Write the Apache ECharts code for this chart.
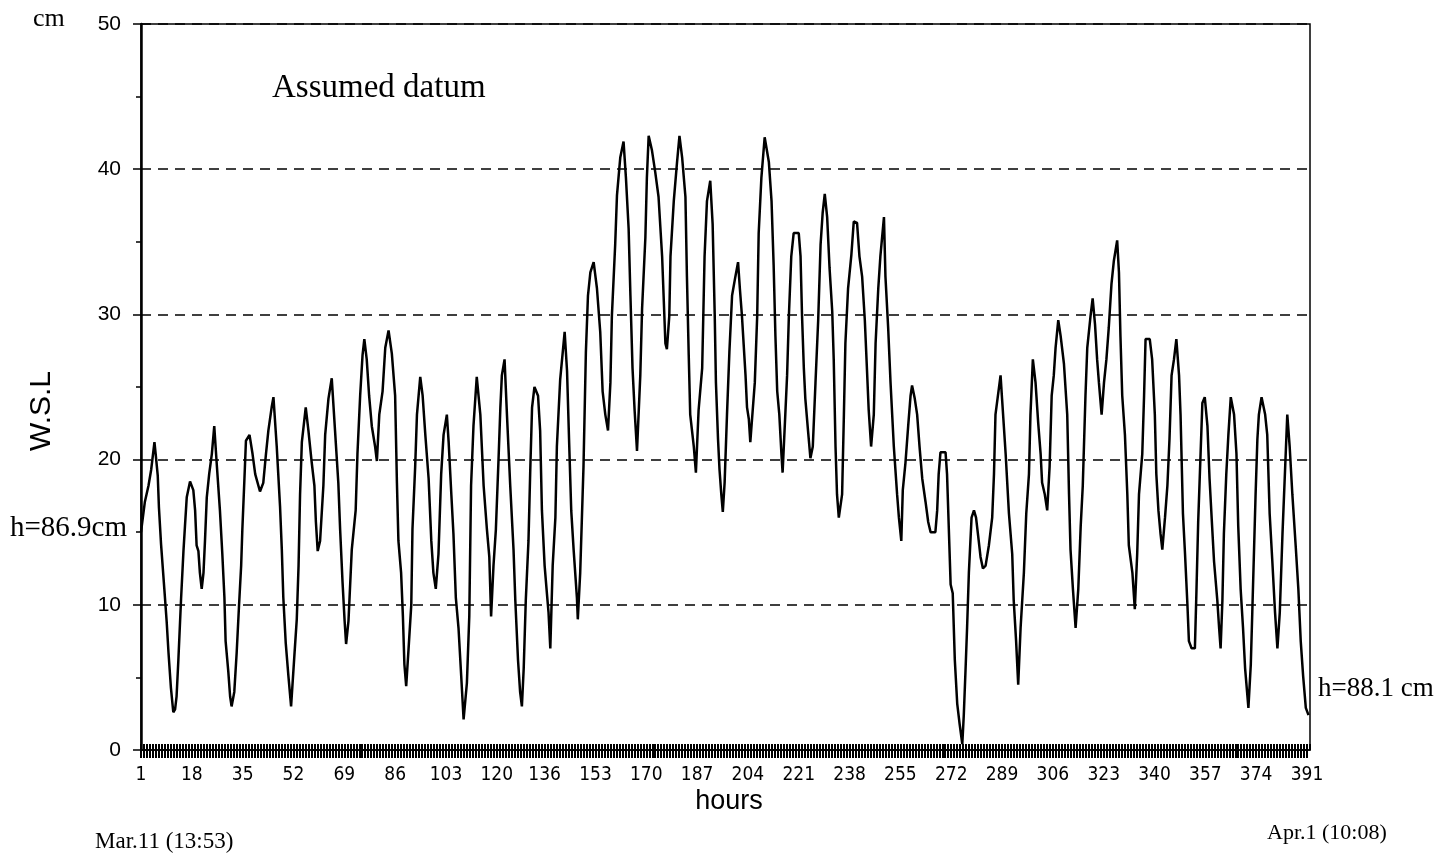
<!DOCTYPE html>
<html>
<head>
<meta charset="utf-8">
<script src="https://cdn.jsdelivr.net/npm/echarts@6/dist/echarts.min.js"></script>
<style>
  html, body { margin: 0; padding: 0; background: #fff; }
  #main { width: 1450px; height: 860px; }
</style>
</head>
<body>
<div id="main"></div>
<script>
// tick labels shown on the hours axis
var xLabels = [1, 18, 35, 52, 69, 86, 103, 120, 136, 153, 170, 187, 204, 221, 238, 255, 272, 289, 306, 323, 340, 357, 374, 391];
var yTicks = [0, 10, 20, 30, 40, 50];

// readings taken off the trace: hour and water surface level (cm)
var hours = [
  1.0, 2.3, 3.5, 4.4, 5.5, 5.9, 6.6, 7.0, 7.7, 8.8, 9.6, 10.2, 11.0, 11.8, 12.4, 12.9, 13.5, 14.4, 15.2, 15.7,
  16.3, 17.4, 18.5, 19.1, 19.6, 20.2, 20.7, 21.3, 21.9, 22.4, 23.0, 23.8, 24.7, 25.5, 26.3, 27.4, 28.2, 28.9, 29.3, 30.2,
  30.8, 31.3, 32.2, 33.0, 33.8, 34.5, 34.9, 35.6, 36.1, 37.3, 38.3, 39.2, 40.8, 41.9, 42.8, 43.6, 44.7, 45.3, 46.4, 47.5,
  48.1, 48.6, 49.4, 50.3, 51.2, 52.3, 53.1, 53.7, 54.2, 54.8, 56.1, 57.0, 58.1, 59.0, 59.5, 60.1, 60.9, 62.0, 62.6, 63.7,
  64.8, 65.9, 67.0, 67.6, 68.4, 69.1, 69.6, 70.4, 71.5, 72.8, 73.4, 74.3, 75.1, 75.7, 76.5, 77.3, 78.2, 79.3, 79.9, 80.7,
  81.8, 82.7, 83.8, 84.9, 86.0, 86.6, 87.1, 88.0, 88.6, 89.1, 89.7, 90.5, 91.4, 91.8, 92.7, 93.3, 94.4, 95.2, 96.1, 97.2,
  98.1, 98.8, 99.6, 100.5, 101.4, 102.2, 103.3, 103.9, 104.8, 105.5, 106.3, 107.2, 108.1, 108.9, 110.0, 110.8, 111.4, 112.2, 113.3, 114.5,
  115.6, 116.7, 117.5, 118.1, 118.9, 119.7, 120.6, 121.2, 121.7, 122.6, 123.4, 124.5, 125.6, 126.2, 127.1, 127.8, 128.4, 129.0, 129.7, 130.6,
  131.2, 131.8, 132.6, 133.8, 134.5, 135.1, 136.0, 136.8, 137.3, 137.9, 138.7, 139.6, 140.1, 141.2, 142.7, 143.5, 144.2, 144.9, 145.7, 146.8,
  147.1, 147.9, 149.0, 149.8, 150.5, 151.3, 152.4, 153.5, 154.6, 155.4, 156.3, 157.2, 158.0, 158.5, 159.6, 160.2, 161.3, 162.4, 163.2, 164.1,
  164.7, 165.4, 166.1, 166.9, 168.0, 168.6, 169.7, 170.2, 170.8, 171.9, 173.0, 174.1, 175.3, 176.4, 176.9, 177.7, 178.1, 179.2, 180.3, 181.1,
  182.0, 183.1, 183.6, 184.2, 184.7, 185.9, 186.6, 187.5, 188.7, 189.5, 190.3, 191.4, 192.2, 192.9, 193.3, 194.0, 194.5, 195.1, 195.6, 196.2,
  197.0, 197.8, 198.7, 199.8, 200.7, 201.3, 202.0, 203.2, 203.7, 204.3, 204.8, 205.6, 206.3, 207.1, 207.6, 208.5, 209.6, 211.0, 211.9, 212.6,
  213.2, 213.8, 214.5, 215.2, 215.6, 216.5, 217.1, 217.7, 218.5, 219.3, 221.0, 221.6, 222.1, 222.7, 223.2, 224.1, 224.9, 225.7, 226.6, 227.5,
  228.3, 229.0, 229.7, 230.5, 231.3, 232.2, 232.7, 233.3, 233.8, 234.4, 235.5, 236.1, 236.6, 237.5, 238.6, 239.4, 240.5, 241.3, 242.2, 243.1,
  243.9, 244.4, 245.2, 246.1, 246.7, 247.6, 248.3, 249.5, 250.0, 250.9, 251.7, 252.8, 253.9, 254.5, 255.3, 255.8, 256.7, 257.6, 258.4, 258.9,
  259.8, 260.6, 261.4, 262.3, 263.4, 264.3, 265.1, 266.7, 267.3, 267.8, 268.4, 270.1, 270.6, 271.2, 271.8, 272.5, 273.2, 274.0, 274.8, 275.7,
  276.2, 276.8, 277.3, 277.9, 278.8, 279.6, 280.3, 281.2, 281.8, 282.6, 283.5, 284.6, 285.7, 286.3, 286.8, 288.5, 289.0, 290.2, 291.3, 292.4,
  292.9, 293.7, 294.4, 295.2, 296.3, 297.1, 298.0, 298.5, 299.3, 300.2, 301.1, 301.9, 302.4, 303.3, 304.1, 304.9, 305.6, 306.3, 306.9, 307.8,
  308.6, 309.7, 310.8, 311.4, 311.9, 312.7, 313.6, 314.5, 315.3, 316.0, 316.9, 317.5, 318.6, 319.3, 320.1, 320.8, 321.4, 322.3, 323.1, 323.9,
  324.7, 325.6, 326.4, 327.5, 328.1, 328.6, 329.2, 330.1, 330.9, 331.4, 332.6, 333.4, 334.2, 334.8, 335.9, 336.5, 337.0, 338.4, 339.2, 340.1,
  340.6, 341.3, 342.0, 342.6, 343.5, 344.3, 345.0, 345.7, 346.5, 347.3, 348.2, 348.7, 349.5, 350.2, 351.0, 351.5, 352.4, 353.5, 354.0, 354.6,
  355.4, 356.0, 356.8, 357.7, 358.4, 359.1, 359.9, 361.0, 361.6, 362.1, 362.7, 363.2, 364.0, 364.7, 365.5, 366.6, 367.4, 368.0, 368.8, 369.6,
  370.3, 371.4, 372.2, 372.7, 373.8, 374.4, 374.9, 375.8, 377.0, 377.7, 378.5, 379.4, 380.3, 381.1, 381.9, 382.8, 383.6, 384.4, 385.2, 386.1,
  387.2, 388.1, 388.9, 389.7, 390.6, 391.5
];
var levels = [
  15.0, 17.1, 18.2, 19.3, 21.2, 20.4, 18.9, 16.7, 14.2, 11.1, 8.8, 6.7, 4.3, 2.6, 2.8, 3.7, 6.2, 10.4, 13.7, 15.4,
  17.4, 18.5, 17.9, 16.5, 14.1, 13.7, 12.2, 11.1, 12.2, 14.4, 17.4, 19.0, 20.4, 22.3, 19.8, 16.5, 13.5, 10.5, 7.5, 5.4,
  3.7, 3.0, 4.0, 6.7, 10.0, 12.7, 15.2, 18.7, 21.3, 21.7, 20.4, 19.0, 17.8, 18.4, 20.4, 22.0, 23.6, 24.3, 20.9, 16.8,
  13.8, 10.5, 7.4, 5.1, 3.0, 6.5, 9.0, 12.7, 17.6, 21.2, 23.6, 22.0, 19.8, 18.2, 15.7, 13.7, 14.4, 18.2, 21.7, 24.2,
  25.6, 22.0, 18.4, 15.2, 11.6, 8.9, 7.3, 8.9, 13.8, 16.5, 20.4, 24.4, 27.2, 28.3, 26.9, 24.4, 22.3, 20.9, 19.9, 23.1,
  24.7, 27.7, 28.9, 27.3, 24.4, 18.4, 14.4, 12.2, 9.2, 5.9, 4.4, 7.0, 10.0, 15.2, 19.5, 23.1, 25.7, 24.4, 21.7, 18.7,
  14.4, 12.2, 11.1, 13.5, 19.0, 21.7, 23.1, 21.2, 17.6, 14.9, 10.5, 8.4, 5.1, 2.1, 4.6, 9.2, 18.2, 22.3, 25.7, 23.1,
  18.2, 15.2, 13.3, 9.2, 12.7, 15.2, 20.1, 23.6, 25.8, 26.9, 23.1, 18.2, 13.8, 10.3, 6.2, 4.0, 3.0, 5.6, 10.3, 14.4,
  19.3, 23.6, 25.0, 24.4, 22.0, 16.5, 12.7, 10.7, 9.5, 7.0, 12.7, 16.0, 20.9, 25.5, 28.8, 26.1, 21.2, 16.5, 13.8, 10.5,
  9.0, 12.2, 19.5, 27.4, 31.3, 32.9, 33.6, 31.8, 28.8, 24.7, 23.1, 22.0, 25.3, 29.9, 34.8, 38.2, 40.8, 41.9, 39.4, 35.9,
  31.3, 26.3, 23.4, 20.6, 25.8, 30.4, 35.3, 39.4, 42.3, 41.3, 39.8, 38.1, 34.0, 28.0, 27.6, 29.9, 34.0, 37.8, 40.5, 42.3,
  40.8, 38.1, 32.6, 27.2, 23.1, 20.9, 19.1, 23.4, 26.3, 34.0, 37.8, 39.2, 36.2, 29.9, 25.3, 21.4, 19.3, 17.6, 16.4, 18.4,
  23.1, 27.4, 31.3, 32.6, 33.6, 31.8, 29.9, 25.8, 23.6, 22.8, 21.2, 23.4, 25.3, 29.9, 35.6, 39.4, 42.2, 40.5, 37.8, 33.4,
  28.5, 24.7, 23.1, 20.4, 19.1, 23.1, 25.8, 29.9, 34.0, 35.6, 35.6, 34.0, 29.9, 26.3, 24.2, 22.0, 20.1, 20.9, 25.3, 29.6,
  34.8, 37.0, 38.3, 36.7, 33.2, 30.2, 26.9, 20.9, 17.6, 16.0, 17.6, 23.1, 28.0, 31.8, 34.1, 36.4, 36.3, 34.0, 32.6, 29.6,
  25.8, 23.4, 20.9, 23.1, 28.0, 31.8, 34.0, 36.7, 32.6, 29.1, 25.3, 20.9, 17.6, 16.0, 14.4, 17.9, 19.8, 22.3, 24.4, 25.1,
  24.2, 23.1, 20.9, 18.7, 17.1, 15.7, 15.0, 15.0, 16.5, 19.0, 20.5, 20.5, 19.0, 15.2, 11.4, 10.8, 6.2, 3.2, 1.8, 0.4,
  2.4, 5.6, 8.4, 12.2, 16.0, 16.5, 16.0, 14.4, 13.3, 12.5, 12.7, 14.1, 16.0, 19.0, 23.1, 25.8, 24.2, 20.4, 16.3, 13.5,
  10.3, 7.5, 4.5, 8.4, 12.2, 16.3, 19.0, 23.1, 26.9, 25.3, 22.5, 20.4, 18.4, 17.6, 16.5, 19.5, 24.4, 25.8, 27.7, 29.6,
  28.5, 26.6, 23.1, 17.6, 13.8, 11.1, 8.4, 11.1, 15.4, 18.2, 24.4, 27.7, 29.9, 31.1, 29.3, 26.9, 25.3, 23.1, 25.3, 26.9,
  29.1, 32.1, 33.7, 35.1, 32.9, 28.5, 24.4, 21.7, 17.6, 14.1, 12.2, 9.7, 13.5, 17.6, 20.4, 24.4, 28.3, 28.3, 26.9, 23.1,
  19.0, 16.5, 14.9, 13.8, 16.0, 18.2, 21.4, 25.8, 26.9, 28.3, 25.8, 23.1, 16.3, 13.5, 10.0, 7.5, 7.0, 7.0, 10.8, 15.7,
  20.4, 23.9, 24.3, 22.3, 18.7, 16.0, 13.0, 10.3, 8.4, 7.0, 10.3, 14.9, 19.0, 21.7, 24.3, 23.1, 20.4, 15.4, 11.1, 8.4,
  5.6, 2.9, 5.9, 9.5, 17.6, 21.4, 23.1, 24.3, 23.1, 21.7, 16.3, 13.0, 9.5, 7.0, 9.5, 14.9, 19.0, 23.1, 20.9, 17.6,
  14.1, 11.1, 7.5, 5.1, 2.9, 2.4
];

var serif = '"Liberation Serif", "DejaVu Serif", serif';
var sans = '"Liberation Sans", Arial, sans-serif';

function createOption(){
	var points = [];
	for (var i = 0; i < hours.length; i++) {
		points.push([hours[i], levels[i]]);
	}

	var option = {
		backgroundColor: '#fff',
		animation: false,
		grid: {
			left: 141,
			right: 140,
			top: 24,
			bottom: 110,
			show: true,
			borderColor: '#000',
			borderWidth: 1.5
		},
		xAxis: [
			{
				type: 'value',
				min: 1,
				max: 392,
				interval: 1,
				position: 'bottom',
				axisLine: { show: true, lineStyle: { color: '#000', width: 1.5 } },
				axisTick: { show: true, length: 8, lineStyle: { color: '#000', width: 2 } },
				axisLabel: {
					margin: 16,
					showMinLabel: true,
					showMaxLabel: false,
					color: '#000',
					fontFamily: '"Liberation Sans Narrow", "DejaVu Sans Condensed", ' + sans,
					fontSize: 19,
					formatter: function (v) {
						return xLabels.indexOf(v) >= 0 ? String(v) : '';
					}
				},
				splitLine: { show: false }
			},
			{
				type: 'value',
				min: 1,
				max: 392,
				interval: 1,
				position: 'bottom',
				offset: 0,
				axisLine: { show: false },
				axisTick: { show: true, inside: true, length: 6, lineStyle: { color: '#000', width: 2 } },
				axisLabel: { show: false },
				splitLine: { show: false }
			}
		],
		yAxis: {
			type: 'value',
			min: yTicks[0],
			max: yTicks[yTicks.length - 1],
			interval: 10,
			axisLine: { show: true, lineStyle: { color: '#000', width: 2.5 } },
			axisTick: { show: true, length: 8, lineStyle: { color: '#000', width: 1.5 } },
			minorTick: { show: true, splitNumber: 2, length: 5, lineStyle: { color: '#000', width: 1.5 } },
			axisLabel: { margin: 20, color: '#000', fontFamily: sans, fontSize: 21 },
			splitLine: {
				show: true,
				lineStyle: { color: '#000', width: 1.5, type: [10, 7] }
			}
		},
		graphic: [
			{ type: 'text', left: 33, top: 6, style: { text: 'cm', font: '26px ' + serif, fill: '#000' } },
			{ type: 'text', left: 272, top: 72, style: { text: 'Assumed datum', font: '33px ' + serif, fill: '#000' } },
			{ type: 'text', left: 10, top: 514, style: { text: 'h=86.9cm', font: '29px ' + serif, fill: '#000' } },
			{ type: 'text', left: 1318, top: 675, style: { text: 'h=88.1 cm', font: '27px ' + serif, fill: '#000' } },
			{ type: 'text', left: 95, top: 830, style: { text: 'Mar.11 (13:53)', font: '23px ' + serif, fill: '#000' } },
			{ type: 'text', left: 1267, top: 822, style: { text: 'Apr.1 (10:08)', font: '22px ' + serif, fill: '#000' } },
			{
				type: 'text', x: 729, y: 802,
				style: { text: 'hours', font: '27px ' + sans, fill: '#000', textAlign: 'center', textVerticalAlign: 'middle' }
			},
			{
				type: 'text', x: 42, y: 411, rotation: Math.PI / 2,
				style: { text: 'W.S.L', font: '30px ' + sans, fill: '#000', textAlign: 'center', textVerticalAlign: 'middle' }
			}
		],
		series: [
			{
				name: 'W.S.L',
				type: 'line',
				xAxisIndex: 0,
				data: points,
				showSymbol: false,
				lineStyle: { color: '#000', width: 2.5 },
				z: 3
			}
		]
	};
	return option;
}

var myChart = echarts.init(document.getElementById('main'));
myChart.setOption(createOption());
</script>
</body>
</html>
